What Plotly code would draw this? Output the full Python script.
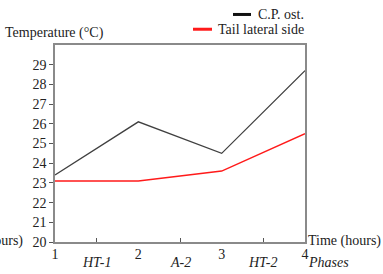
import plotly.graph_objects as go

time_hours = [1, 2, 3, 4]
cp_ost = [23.4, 26.1, 24.5, 28.7]
tail_lateral = [23.1, 23.1, 23.6, 25.5]
y_ticks = [20, 21, 22, 23, 24, 25, 26, 27, 28, 29]
phase_pos = [1.5, 2.5, 3.5]
phase_labels = ["HT-1", "A-2", "HT-2"]

FONT = "Liberation Serif, Times New Roman, Tinos, serif"
W, H = 383, 274
L, R, T, B = 55, 78, 45, 29

fig = go.Figure()
fig.add_trace(go.Scatter(x=time_hours, y=cp_ost, mode="lines", name="C.P. ost.",
                         line=dict(color="#404040", width=1.3), showlegend=False))
fig.add_trace(go.Scatter(x=time_hours, y=tail_lateral, mode="lines", name="Tail lateral side",
                         line=dict(color="#ff1a1a", width=1.5), showlegend=False))

axis_col = "#8a8a8a"
fig.update_layout(
    width=W, height=H,
    margin=dict(l=L, r=R, t=T, b=B),
    paper_bgcolor="white", plot_bgcolor="white",
    font=dict(family=FONT, size=14, color="#222"),
    xaxis=dict(range=[1, 4], tickvals=time_hours, ticktext=[str(v) for v in time_hours],
               ticks="", showgrid=False, zeroline=False, showline=True, linecolor=axis_col,
               linewidth=1.5, mirror=True, ticklabelstandoff=-2,
               minor=dict(tickvals=phase_pos, ticks="inside", ticklen=4, tickcolor="#555", tickwidth=1)),
    yaxis=dict(range=[20, 30], tickvals=y_ticks, ticks="outside", ticklen=4, tickcolor="#555",
               showgrid=False, zeroline=False, showline=True, linecolor=axis_col, linewidth=1.5,
               mirror=True),
)

def py(ypx):
    return 1 - (ypx - T) / (H - T - B)

def px(xpx):
    return (xpx - L) / (W - L - R)

for p, lab in zip(phase_pos, phase_labels):
    fig.add_annotation(x=p, xref="x", y=py(266), yref="paper",
                       text=f"<i>{lab}</i>", showarrow=False, yanchor="middle",
                       font=dict(family=FONT, size=14))

def pa(xpx, ypx, text, xanchor="left", italic=False, size=14):
    t = f"<i>{text}</i>" if italic else text
    fig.add_annotation(x=px(xpx), y=py(ypx), xref="paper", yref="paper", text=t,
                       showarrow=False, xanchor=xanchor, yanchor="middle",
                       font=dict(family=FONT, size=size))

pa(306, 244, "Time (hours)")
pa(25, 244, "Time (hours)", xanchor="right")
pa(306, 266, "Phases", italic=True)
pa(3, 33, "Temperature (°C)")
pa(306, 14, "C.P. ost.", xanchor="right")
pa(306, 29, "Tail lateral side", xanchor="right")

def seg(x0, x1, ypx, color):
    fig.add_shape(type="line", xref="paper", yref="paper",
                  x0=px(x0), x1=px(x1), y0=py(ypx), y1=py(ypx),
                  line=dict(color=color, width=3))

seg(233, 251, 14, "#111")
seg(193, 212, 29, "#ff1a1a")

fig.write_html("out.html", config={"displayModeBar": False},
               post_script="document.body.style.margin='0';")
